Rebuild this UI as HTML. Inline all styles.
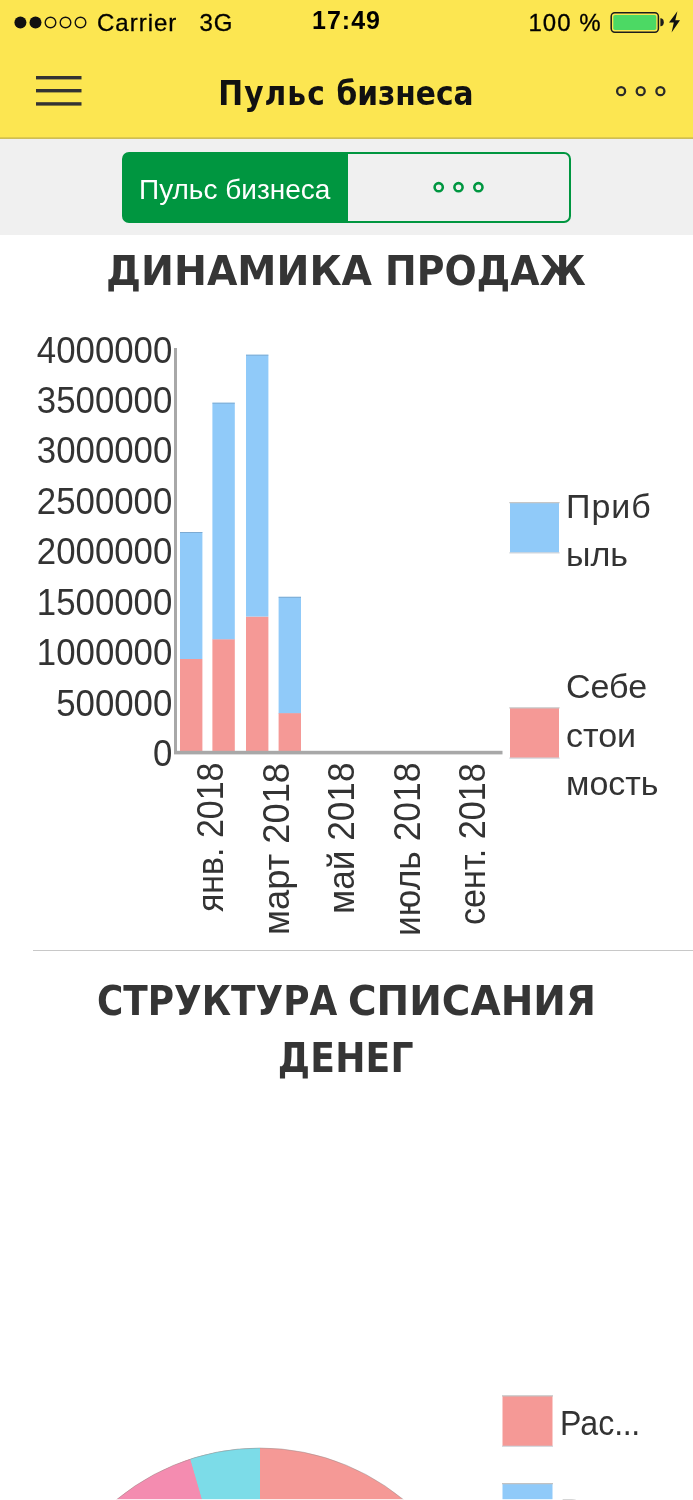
<!DOCTYPE html>
<html lang="ru">
<head>
<meta charset="utf-8">
<title>Пульс бизнеса</title>
<style>
html,body{margin:0;padding:0;}
body{width:693px;height:1500px;overflow:hidden;background:#fff;position:relative;
  font-family:"Liberation Sans",sans-serif;color:#333;}
.abs{position:absolute;white-space:nowrap;line-height:1;}
#hdr{position:absolute;left:0;top:0;width:693px;height:137px;background:#fce651;}
#hdrline{position:absolute;left:0;top:136.6px;width:693px;height:4px;background:linear-gradient(#efd94e 0%,#cbb94a 28%,#cfc163 45%,#ecebdc 62%,#f6f6f6 80%,#f0f0f0 100%);}
#sub{position:absolute;left:0;top:139px;width:693px;height:96px;background:#f0f0f0;}
#seg{position:absolute;left:122px;top:152px;width:445px;height:67px;border:2px solid #009640;border-radius:7px;background:linear-gradient(to right,#009640 223.5px,#f0f0f0 223.5px);overflow:hidden;}
#segon{display:none;}
#segtxt{left:15px;top:21.5px;font-size:28px;color:#fff;}
.sb{font-size:24px;color:#000;letter-spacing:1px;-webkit-text-stroke:0.3px #000;}
#title{font-family:"DejaVu Sans Condensed","Liberation Sans",sans-serif;font-weight:bold;font-size:33px;letter-spacing:0.3px;color:#111;left:-0.6px;width:693px;text-align:center;top:76.7px;}
.h{font-family:"DejaVu Sans Condensed","Liberation Sans",sans-serif;font-weight:bold;color:#353535;left:0;width:693px;text-align:center;}
.hw{font-family:"DejaVu Sans","Liberation Sans",sans-serif;font-weight:bold;color:#353535;transform-origin:0 50%;}
.yl{font-size:34.8px;color:#333;text-align:right;width:172.3px;left:0;transform-origin:100% 50%;transform:scaleY(1.08);}
.xl{font-size:34px;color:#333;transform-origin:0 0;}
.lg{font-size:34px;color:#333;}
</style>
</head>
<body>
<div id="hdr"></div>
<div id="hdrline"></div>
<div id="sub"></div>

<!-- status bar -->
<svg class="abs" style="left:0;top:0" width="693" height="137" viewBox="0 0 693 137">
  <g fill="#111">
    <circle cx="20.4" cy="22.5" r="6"/>
    <circle cx="35.5" cy="22.5" r="6"/>
  </g>
  <g fill="none" stroke="#111" stroke-width="1.4">
    <circle cx="50.5" cy="22.5" r="5.3"/>
    <circle cx="65.5" cy="22.5" r="5.3"/>
    <circle cx="80.5" cy="22.5" r="5.3"/>
  </g>
  <!-- hamburger -->
  <g fill="#333">
    <rect x="36" y="76" width="45.5" height="3.4"/>
    <rect x="36" y="89" width="45.5" height="3.4"/>
    <rect x="36" y="102.2" width="45.5" height="3.4"/>
  </g>
  <!-- battery -->
  <rect x="611.2" y="12.8" width="47.2" height="19.4" rx="3.6" fill="none" stroke="#1c1c1c" stroke-width="1.5"/>
  <rect x="613.3" y="14.9" width="43" height="15.2" rx="1.8" fill="#4cd964"/>
  <path d="M660.4 18.2 h0.6 q2.8 0.4 2.8 4 q0 3.6 -2.8 4 h-0.6z" fill="#1c1c1c"/>
  <path d="M677.4 11.3 L669 22.4 L673.8 22.4 L671.6 32.6 L680 20.2 L675.3 20.2 Z" fill="#111"/>
  <!-- more dots -->
  <g fill="none" stroke="#2a2a2a" stroke-width="2.3">
    <circle cx="621.1" cy="91.2" r="4"/>
    <circle cx="640.7" cy="91.2" r="4"/>
    <circle cx="660.4" cy="91.2" r="4"/>
  </g>
</svg>
<div class="abs sb" style="left:97px;top:11px;">Carrier</div>
<div class="abs sb" style="left:199.5px;top:11px;">3G</div>
<div class="abs sb" style="left:312px;top:8px;font-weight:bold;font-size:25px;letter-spacing:1px;-webkit-text-stroke:0;">17:49</div>
<div class="abs sb" style="left:528.5px;top:10.5px;">100 %</div>
<div class="abs" id="title"><span style="letter-spacing:1.05px">Пульс</span> <span style="letter-spacing:0">бизнеса</span></div>

<!-- segmented -->
<div id="seg"><div id="segon"></div><div class="abs" id="segtxt">Пульс бизнеса</div>
<svg class="abs" style="left:0;top:0" width="445" height="67"><g fill="none" stroke="#009640" stroke-width="2.6">
<circle cx="314.7" cy="33.2" r="4.1"/><circle cx="334.5" cy="33.2" r="4.1"/><circle cx="354.4" cy="33.2" r="4.1"/></g></svg>
</div>

<div class="abs hw" style="top:250.8px;left:106px;font-size:41.4px;transform:scaleX(0.9506);">ДИНАМИКА</div>
<div class="abs hw" style="top:250.8px;left:385.3px;font-size:41.4px;transform:scaleX(0.914);">ПРОДАЖ</div>

<!-- chart -->
<svg class="abs" style="left:0;top:320px" width="693" height="640" viewBox="0 320 693 640">
  <g fill="#90caf9">
    <rect x="180" y="532" width="22.4" height="127"/>
    <rect x="212.4" y="402.7" width="22.4" height="237"/>
    <rect x="246" y="354.7" width="22.4" height="262"/>
    <rect x="278.6" y="596.8" width="22.4" height="117"/>
    <rect x="510" y="503" width="49" height="49.5"/>
  </g>
  <g fill="#f59996">
    <rect x="180" y="659" width="22.4" height="92.5"/>
    <rect x="212.4" y="639.4" width="22.4" height="112"/>
    <rect x="246" y="616.8" width="22.4" height="135"/>
    <rect x="278.6" y="713.2" width="22.4" height="38.5"/>
    <rect x="510" y="708" width="49" height="49.8"/>
  </g>
  <g fill="#6d8fb0" fill-opacity="0.6">
    <rect x="180" y="532" width="22.4" height="0.9"/><rect x="212.4" y="402.7" width="22.4" height="0.9"/>
    <rect x="246" y="354.7" width="22.4" height="0.9"/><rect x="278.6" y="596.8" width="22.4" height="0.9"/>
  </g>
  <g fill="#a8a8a8">
    <rect x="174" y="348" width="3" height="406"/>
    <rect x="174" y="750.8" width="328.5" height="3.6"/>
  </g>
  <g stroke="#c6c6c6" stroke-width="1.3">
    <line x1="509.3" y1="502.7" x2="559.6" y2="502.7"/><line x1="509.3" y1="707.8" x2="559.6" y2="707.8"/>
  </g>
  <g stroke="#c4cad2" stroke-width="1">
    <line x1="509.3" y1="552.9" x2="559.6" y2="552.9"/><line x1="509.3" y1="758.1" x2="559.6" y2="758.1"/>
  </g>
</svg>
<div class="abs yl" style="top:332.5px;">4000000</div>
<div class="abs yl" style="top:382.9px;">3500000</div>
<div class="abs yl" style="top:433.4px;">3000000</div>
<div class="abs yl" style="top:483.9px;">2500000</div>
<div class="abs yl" style="top:534.3px;">2000000</div>
<div class="abs yl" style="top:584.8px;">1500000</div>
<div class="abs yl" style="top:635.2px;">1000000</div>
<div class="abs yl" style="top:685.7px;">500000</div>
<div class="abs yl" style="top:736.1px;">0</div>

<div class="abs xl" style="left:191.0px;top:912.0px;transform:rotate(-90deg) scale(0.997,1.09);">янв. 2018</div>
<div class="abs xl" style="left:256.6px;top:935.0px;transform:rotate(-90deg) scale(1.068,1.09);">март 2018</div>
<div class="abs xl" style="left:322.2px;top:914.0px;transform:rotate(-90deg) scale(1.035,1.09);">май 2018</div>
<div class="abs xl" style="left:387.8px;top:936.0px;transform:rotate(-90deg) scale(1.043,1.09);">июль 2018</div>
<div class="abs xl" style="left:453.4px;top:925.0px;transform:rotate(-90deg) scale(1.004,1.09);">сент. 2018</div>

<div class="abs lg" style="left:566px;top:488.5px;letter-spacing:1px;">Приб</div>
<div class="abs lg" style="left:566px;top:537px;">ыль</div>
<div class="abs lg" style="left:566px;top:668.7px;">Себе</div>
<div class="abs lg" style="left:566px;top:717.7px;">стои</div>
<div class="abs lg" style="left:566px;top:765.7px;">мость</div>

<div class="abs" style="left:33px;top:949.5px;width:660px;height:1.6px;background:#c8c8c8;"></div>

<div class="abs hw" style="top:980.9px;left:97px;font-size:40.2px;transform:scaleX(0.893);">СТРУКТУРА</div>
<div class="abs hw" style="top:980.9px;left:348px;font-size:40.2px;transform:scaleX(0.970);">СПИСАНИЯ</div>
<div class="abs h" style="top:1038px;left:-0.7px;font-size:40.2px;letter-spacing:0.2px;">ДЕНЕГ</div>

<!-- pie -->
<svg class="abs" style="left:0;top:1380px" width="693" height="120" viewBox="0 1380 693 120">
  <defs><clipPath id="pc"><circle cx="260" cy="1673" r="225"/></clipPath></defs>
  <g clip-path="url(#pc)">
    <rect x="0" y="1440" width="693" height="70" fill="#f59996"/>
    <polygon points="260,1440 260,1510 204.8,1510 184.5,1440" fill="#7cdce8"/>
    <polygon points="0,1440 184.5,1440 204.8,1510 0,1510" fill="#f48cb0"/>
  </g>
  <circle cx="260" cy="1673" r="225" fill="none" stroke="#8a8a8a" stroke-opacity="0.55" stroke-width="0.8"/>
  <rect x="502.5" y="1396" width="50" height="50" fill="#f59996"/>
  <rect x="502.5" y="1484" width="50" height="50" fill="#90caf9"/>
  <g stroke="#c2c2c2" stroke-width="1.3">
    <line x1="502" y1="1395.8" x2="553" y2="1395.8"/><line x1="502" y1="1483.6" x2="553" y2="1483.6"/>
  </g>
  <line x1="502" y1="1446.2" x2="553" y2="1446.2" stroke="#c4cad2" stroke-width="1"/>
</svg>
<div class="abs lg" style="left:559.5px;top:1405.5px;font-size:35.5px;transform-origin:0 50%;transform:scaleX(0.905);">Рас<span style="letter-spacing:-0.55px">...</span></div>
<div class="abs lg" style="left:559.5px;top:1494px;font-size:35.5px;transform-origin:0 50%;transform:scaleX(0.905);">Рас<span style="letter-spacing:-0.55px">...</span></div>
<div class="abs" style="left:0;top:1499px;width:693px;height:1px;background:#fff;opacity:.8"></div>
</body>
</html>
